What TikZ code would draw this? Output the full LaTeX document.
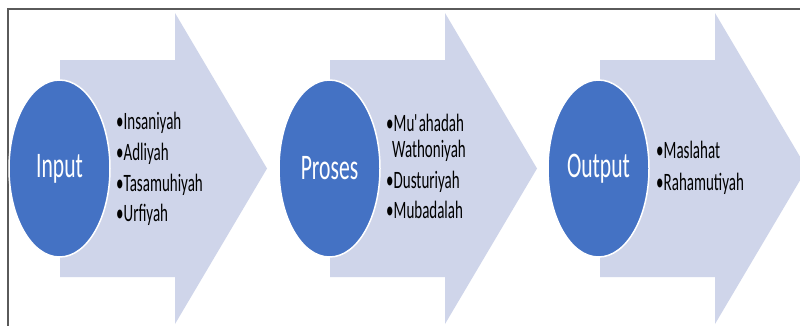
\documentclass[tikz,border=0pt]{standalone}
\usepackage{fontspec}
\setmainfont{Carlito}
\newfontfamily\narrowfont{Carlito}[FakeStretch=0.6]
\usetikzlibrary{shapes.geometric}
\definecolor{arrowfill}{HTML}{CFD5EA}
\definecolor{circfill}{HTML}{4472C4}
\definecolor{framegray}{HTML}{5A5A5A}
\begin{document}
\begin{tikzpicture}[x=1pt,y=-1pt,
  arrowshape/.style={fill=arrowfill, draw=none},
  stage/.style={ellipse, fill=circfill, draw=white, line width=1.5pt,
    minimum width=101pt, minimum height=177pt, inner sep=0pt, text=white,
    font=\narrowfont\fontsize{36}{40}\selectfont},
  item/.style={anchor=base west, inner sep=0pt, text=black,
    font=\narrowfont\fontsize{25}{26}\selectfont}]
\useasboundingbox (0,0) rectangle (800,325);
\clip (0,0) rectangle (800,325);
\fill[white] (0,0) rectangle (800,325);
\draw[framegray, line width=1.5pt] (8,330) -- (8,9) -- (805,9);
\foreach \dx in {0,270,540} {
  \fill[arrowshape] (60+\dx,60) -- (175+\dx,60) -- (175+\dx,13) -- (267+\dx,168.5)
    -- (175+\dx,324) -- (175+\dx,277) -- (60+\dx,277) -- cycle;
}
\node[stage] (input) at (59.5,168.5) {Input};
\node[stage] (proses) at (329.5,168.5) {Proses};
\node[stage] (output) at (598.5,168.5) {Output};
% Input items
\node[item] (i1) at (116,129) {•Insaniyah};
\node[item] (i2) at (116,160) {•Adliyah};
\node[item] (i3) at (116,191) {•Tasamuhiyah};
\node[item] (i4) at (116,221) {•Urfiyah};
% Proses items
\node[item] (p1) at (386,131) {•Mu\kern-0.3pt\textquotesingle\kern-0.8pt ahadah};
\node[item] (p1b) at (392,157) {Wathoniyah};
\node[item] (p2) at (386,188) {•Dusturiyah};
\node[item] (p3) at (386,218) {•Mubadalah};
% Output items
\node[item] (o1) at (656,158) {•Maslahat};
\node[item] (o2) at (656,190) {•Rahamutiyah};
\end{tikzpicture}
\end{document}
